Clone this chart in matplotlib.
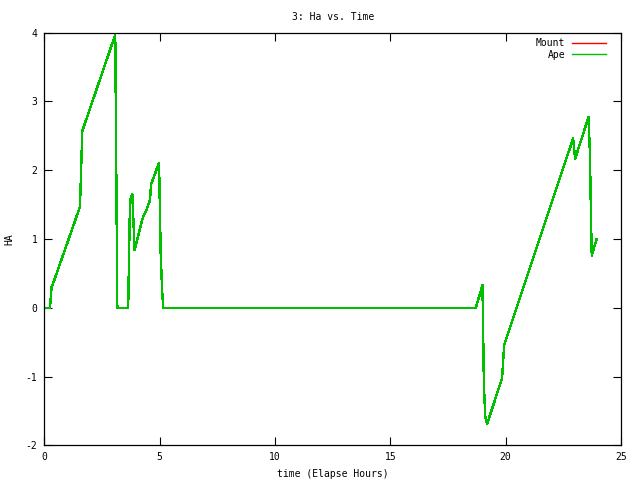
import matplotlib
matplotlib.use('Agg')
import matplotlib.pyplot as plt

# HA values vs elapsed time (hours)
time_hours = [0.0, 0.24, 0.31, 0.38, 1.54, 1.64, 3.07, 3.16, 3.63, 3.71, 3.81,
              3.91, 4.28, 4.43, 4.58, 4.62, 4.97, 5.04, 5.10, 5.15, 18.71,
              19.0, 19.06, 19.12, 19.2, 19.85, 19.94, 22.93, 23.02, 23.6,
              23.66, 23.71, 23.74, 23.95]
ha_mount = [0.0, 0.0, 0.31, 0.36, 1.47, 2.57, 3.97, 0.0, 0.0, 1.57, 1.65,
            0.84, 1.33, 1.43, 1.57, 1.79, 2.11, 0.8, 0.27, 0.0, 0.0,
            0.33, -1.1, -1.58, -1.69, -1.02, -0.54, 2.46, 2.17, 2.77,
            2.25, 1.26, 0.76, 1.0]
ha_ape = list(ha_mount)

x_ticks = [0, 5, 10, 15, 20, 25]
y_ticks = [-2, -1, 0, 1, 2, 3, 4]

plt.rcParams['font.family'] = ['DejaVu Sans Mono']
plt.rcParams['font.size'] = 7
plt.rcParams['axes.unicode_minus'] = False

fig = plt.figure(figsize=(6.4, 4.8), dpi=100)
ax = fig.add_axes([0.0695, 0.072, 0.9005, 0.860])

ax.plot(time_hours, ha_mount, color='#ff0000', lw=1.0, label='Mount', antialiased=False)
ax.plot(time_hours, ha_ape, color='#00c000', lw=1.0, label='Ape', antialiased=False)

ax.set_xlim(0, 25)
ax.set_ylim(-2, 4)
ax.set_xticks(x_ticks)
ax.set_yticks(y_ticks)
ax.tick_params(direction='in', length=6, width=0.8, top=True, right=True, pad=5)
for s in ax.spines.values():
    s.set_linewidth(0.9)

ax.set_title('3: Ha vs. Time', fontsize=7, pad=9)
ax.set_xlabel('time (Elapse Hours)', labelpad=5)
ax.set_ylabel('HA', labelpad=8)

ax.legend(loc='upper right', bbox_to_anchor=(0.988, 1.005), frameon=False,
          markerfirst=False, handlelength=3.5, handletextpad=0.7,
          labelspacing=0.15, borderaxespad=0.4, borderpad=0.4, fontsize=7)

fig.savefig('out.png', dpi=100)
